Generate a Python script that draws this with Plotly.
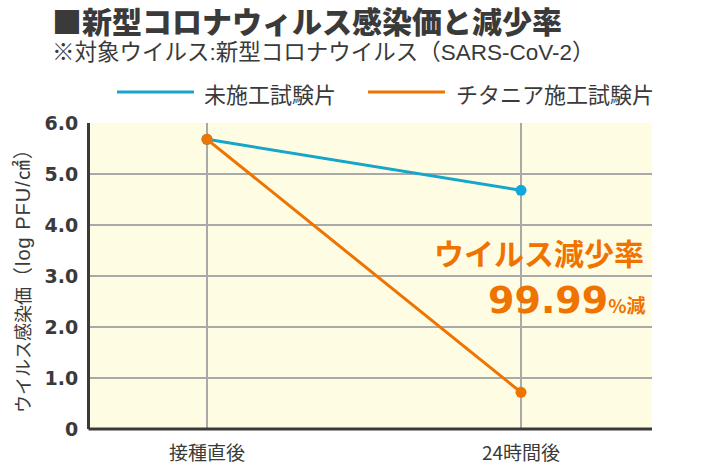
import plotly.graph_objects as go

# ---- data ----
categories = ["接種直後", "24時間後"]
untreated = [5.68, 4.68]          # 未施工試験片
titania = [5.68, 0.72]            # チタニア施工試験片
series_names = ["未施工試験片", "チタニア施工試験片"]
y_ticks = [0, 1, 2, 3, 4, 5, 6]
y_ticktext = ["0", "1.0", "2.0", "3.0", "4.0", "5.0", "6.0"]

BLUE = "#16a6c9"
BLUE_MK = "#0ea8de"
ORANGE = "#ef7300"
DARK = "#3a3a3a"
JP = "Noto Sans CJK JP"
LAT = "Liberation Sans, Noto Sans CJK JP"
NUM = "DejaVu Sans, Noto Sans CJK JP"

W, H = 720, 464
L, R, T, B = 90, 68, 123, 35
PW, PH = W - L - R, H - T - B


def px(x):
    return (x - L) / PW


def py(y):
    return (H - B - y) / PH


xs = list(range(len(categories)))

fig = go.Figure()
fig.add_trace(go.Scatter(
    x=xs, y=untreated, mode="lines+markers", name=series_names[0],
    line=dict(color=BLUE, width=3), marker=dict(color=BLUE_MK, size=11),
    showlegend=False, cliponaxis=False))
fig.add_trace(go.Scatter(
    x=xs, y=titania, mode="lines+markers", name=series_names[1],
    line=dict(color=ORANGE, width=3), marker=dict(color=ORANGE, size=11),
    showlegend=False, cliponaxis=False))

# x range so that categories fall at 207px and 521px
unit = (521 - 207)
x_lo = -(207 - L) / unit
x_hi = (len(categories) - 1) + (L + PW - 521) / unit

fig.update_xaxes(
    range=[x_lo, x_hi], tickvals=xs, ticktext=categories,
    showgrid=True, gridcolor="#a9a9a9", gridwidth=1.5,
    zeroline=False, showline=False, ticks="",
    tickfont=dict(family=JP, size=19, color=DARK),
    ticklabelstandoff=11, fixedrange=True)
fig.update_yaxes(
    range=[0, 6], tickvals=y_ticks, ticktext=y_ticktext,
    showgrid=True, gridcolor="#a9a9a9", gridwidth=1.5,
    zeroline=False, showline=True, linecolor="#3a3a3a", linewidth=3,
    ticks="", tickfont=dict(family=NUM, size=19, color=DARK, weight="bold"),
    ticklabelstandoff=5, fixedrange=True)

shapes = [
    # bottom axis line
    dict(type="line", xref="paper", yref="paper", x0=px(L - 1.5), x1=1, y0=0, y1=0,
         line=dict(color="#3a3a3a", width=3)),
    # legend lines
    dict(type="line", xref="paper", yref="paper", x0=px(117), x1=px(194), y0=py(92), y1=py(92),
         line=dict(color=BLUE, width=3)),
    dict(type="line", xref="paper", yref="paper", x0=px(368), x1=px(445), y0=py(92), y1=py(92),
         line=dict(color=ORANGE, width=3)),
]

annotations = [
    dict(text="■新型コロナウィルス感染価と減少率", x=px(50), y=py(20), xref="paper", yref="paper",
         xanchor="left", yanchor="middle", showarrow=False,
         font=dict(family=JP, size=30, color=DARK, weight=900)),
    dict(text="※対象ウイルス:新型コロナウイルス（SARS-CoV-2）", x=px(50), y=py(53), xref="paper", yref="paper",
         xanchor="left", yanchor="middle", showarrow=False,
         font=dict(family=LAT, size=22.5, color=DARK)),
    dict(text=series_names[0], x=px(202), y=py(93), xref="paper", yref="paper",
         xanchor="left", yanchor="middle", showarrow=False,
         font=dict(family=JP, size=22, color=DARK)),
    dict(text=series_names[1], x=px(454), y=py(93), xref="paper", yref="paper",
         xanchor="left", yanchor="middle", showarrow=False,
         font=dict(family=JP, size=22, color=DARK)),
    dict(text="ウイルス感染価<span style='font-size:20px;letter-spacing:1px'>（log PFU/㎠）</span>",
         x=px(22), y=py(276), xref="paper", yref="paper",
         xanchor="center", yanchor="middle", textangle=-90, showarrow=False,
         font=dict(family=LAT, size=18, color=DARK)),
    dict(text="ウイルス減少率", x=px(646), y=py(252), xref="paper", yref="paper",
         xanchor="right", yanchor="middle", showarrow=False,
         font=dict(family=JP, size=30, color=ORANGE, weight="bold")),
    dict(text="99.99<span style='font-size:19px;font-family:Noto Sans CJK JP'>%減</span>",
         x=px(648), y=py(300), xref="paper", yref="paper",
         xanchor="right", yanchor="middle", showarrow=False,
         font=dict(family=NUM, size=38, color=ORANGE, weight="bold")),
]

fig.update_layout(
    width=W, height=H, margin=dict(l=L, r=R, t=T, b=B, autoexpand=False),
    paper_bgcolor="white", plot_bgcolor="#fffce4",
    shapes=shapes, annotations=annotations, showlegend=False,
)

fig.write_html("out.html", config={"displayModeBar": False},
               post_script="document.body.style.margin='0';document.body.style.overflow='hidden';")
